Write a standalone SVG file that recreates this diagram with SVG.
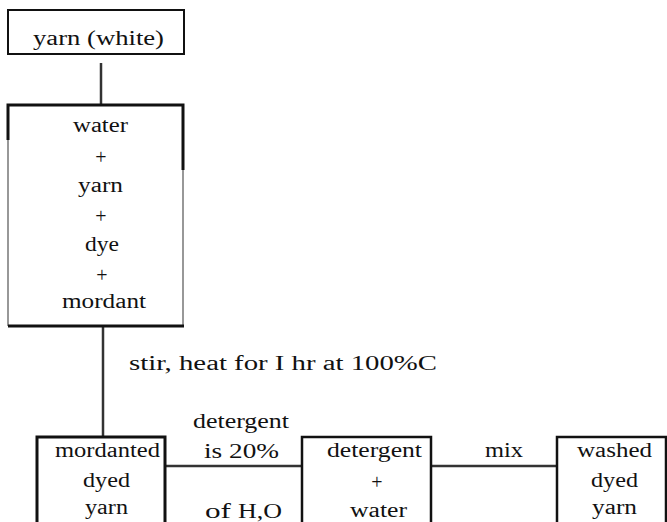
<svg xmlns="http://www.w3.org/2000/svg" width="667" height="522" viewBox="0 0 667 522">
<style>
text{font-family:"Liberation Serif","Times New Roman","DejaVu Serif",serif;font-size:20px;fill:#111}
.box{fill:#fff;stroke:#111;stroke-width:2}
.thin{stroke:#777;stroke-width:1.5;fill:none}
.thick{stroke:#111;stroke-width:3;fill:none}
.conn{stroke:#333;stroke-width:2.5;fill:none}
</style>
<rect width="667" height="522" fill="#fff"/>
<g id="connectors">
<line class="conn" x1="101" y1="63" x2="101" y2="105" stroke-width="2"/>
<line class="conn" x1="103" y1="327" x2="103" y2="437" stroke-width="3.5" stroke="#111"/>
<line class="conn" x1="165" y1="466" x2="302" y2="466"/>
<line class="conn" x1="431" y1="466" x2="557" y2="466"/>
</g>
<g id="n-yarn-white">
<rect class="box" x="8" y="10" width="176" height="44" stroke-width="3"/>
<text x="33" y="45" textLength="131" lengthAdjust="spacingAndGlyphs">yarn  (white)</text>
</g>
<g id="n-mix">
<path class="thin" d="M8 105 V326 M183 105 V326"/>
<path class="thick" d="M8 140 V105 H183 V170"/>
<line class="thick" x1="8" y1="326" x2="184" y2="326"/>
<text x="73" y="132" textLength="55" lengthAdjust="spacingAndGlyphs">water</text>
<text x="101" y="164" text-anchor="middle">+</text>
<text x="78" y="192" textLength="45" lengthAdjust="spacingAndGlyphs">yarn</text>
<text x="101" y="223" text-anchor="middle">+</text>
<text x="85" y="251" textLength="34" lengthAdjust="spacingAndGlyphs">dye</text>
<text x="102" y="282" text-anchor="middle">+</text>
<text x="62" y="308" textLength="84" lengthAdjust="spacingAndGlyphs">mordant</text>
</g>
<g id="l-stir">
<text x="129" y="370" textLength="308" lengthAdjust="spacingAndGlyphs">stir,  heat  for  I  hr  at  100%C</text>
</g>
<g id="n-mordanted">
<path d="M37 522 V437 H165 V522" fill="#fff" stroke="#111" stroke-width="3"/>
<text x="55" y="457" textLength="105" lengthAdjust="spacingAndGlyphs">mordanted</text>
<text x="83" y="487" textLength="47" lengthAdjust="spacingAndGlyphs">dyed</text>
<text x="85" y="514" textLength="43" lengthAdjust="spacingAndGlyphs">yarn</text>
</g>
<g id="l-detergent">
<text x="193" y="428" textLength="96" lengthAdjust="spacingAndGlyphs">detergent</text>
<text x="204" y="458" textLength="75" lengthAdjust="spacingAndGlyphs">is  20%</text>
<text x="205" y="518" textLength="26" lengthAdjust="spacingAndGlyphs">of</text>
<text x="238" y="518" font-size="29" textLength="44" lengthAdjust="spacingAndGlyphs">H,O</text>
</g>
<g id="n-detergent-water">
<path d="M302 522 V437 H431 V522" fill="#fff" stroke="#111" stroke-width="2.5"/>
<text x="327" y="457" textLength="95" lengthAdjust="spacingAndGlyphs">detergent</text>
<text x="377" y="489" text-anchor="middle">+</text>
<text x="350" y="517" textLength="57" lengthAdjust="spacingAndGlyphs">water</text>
</g>
<g id="l-mix">
<text x="485" y="457" textLength="38" lengthAdjust="spacingAndGlyphs">mix</text>
</g>
<g id="n-washed">
<path d="M557 522 V437 H666 V522" fill="#fff" stroke="#111" stroke-width="2.5"/>
<text x="577" y="457" textLength="75" lengthAdjust="spacingAndGlyphs">washed</text>
<text x="591" y="487" textLength="47" lengthAdjust="spacingAndGlyphs">dyed</text>
<text x="592" y="514" textLength="45" lengthAdjust="spacingAndGlyphs">yarn</text>
</g>
</svg>
